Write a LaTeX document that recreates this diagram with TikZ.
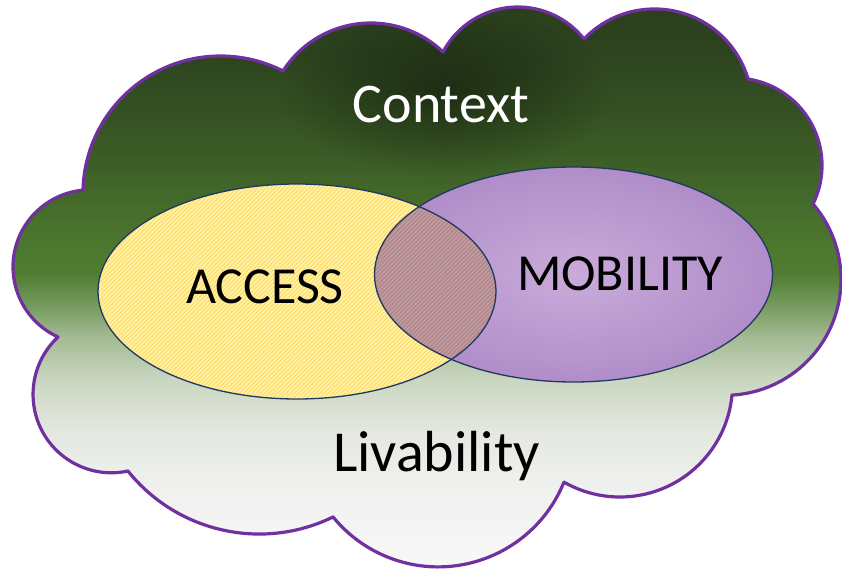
\documentclass[tikz,border=0pt]{standalone}
\usepackage{fontspec}
\setmainfont{Carlito}
\usetikzlibrary{patterns.meta,fadings,shadings}
\definecolor{c7}{HTML}{2B3E1D}
\definecolor{c60}{HTML}{2D4420}
\definecolor{c150}{HTML}{3A5A25}
\definecolor{c230}{HTML}{4A742D}
\definecolor{c270}{HTML}{507D32}
\definecolor{c300}{HTML}{769A5F}
\definecolor{c330}{HTML}{A3BA92}
\definecolor{c370}{HTML}{C9D6C0}
\definecolor{c420}{HTML}{E4E8E0}
\definecolor{c480}{HTML}{F1F2F0}
\definecolor{c567}{HTML}{F9F9F9}
\definecolor{cloudline}{HTML}{7030A0}
\definecolor{navyline}{HTML}{1F3864}
\definecolor{yellowbase}{HTML}{FFF6AC}
\definecolor{yellowstripe}{HTML}{FFDD72}
\definecolor{mobin}{HTML}{C9ABDA}
\definecolor{mobout}{HTML}{B08DC8}
\definecolor{lensbase}{HTML}{BDA0A6}
\definecolor{lensstripe}{HTML}{B68486}
\pgfdeclareverticalshading{cloudsh}{100bp}{color(0bp)=(c567); color(25bp)=(c567); color(32.77bp)=(c480); color(38.13bp)=(c420); color(42.59bp)=(c370); color(46.16bp)=(c330); color(48.84bp)=(c300); color(51.52bp)=(c270); color(55.09bp)=(c230); color(62.23bp)=(c150); color(70.27bp)=(c60); color(75bp)=(c7); color(100bp)=(c7)}
\tikzfading[name=blobfade, inner color=transparent!0, outer color=transparent!100]
\tikzset{
  stripes/.style={pattern={Lines[angle=45,distance=3pt,line width=1.4pt]}},
  ellline/.style={draw=navyline, line width=1.3pt},
  label/.style={anchor=base, inner sep=0pt},
}
\begin{document}
\begin{tikzpicture}[x=1pt,y=-1pt]
\useasboundingbox (0,0) rectangle (842,569);
\def\cloud{(83,190) arc[start angle=181.5, end angle=297, radius=137.6]
 -- (283,71) arc[start angle=212.7, end angle=313.8, radius=104.4]
 -- (443,52) arc[start angle=207.9, end angle=321.5, radius=84.6]
 -- (584,39) arc[start angle=223.8, end angle=343.6, radius=97.6]
 -- (748,79) arc[start angle=278.8, end angle=386.2, radius=87.4]
 -- (813,204) arc[start angle=319.3, end angle=446.6, radius=115.8]
 -- (732,395) arc[start angle=5.4, end angle=119.8, radius=112.6]
 -- (564,482) arc[start angle=22, end angle=140.8, radius=135.7]
 -- (333,517) arc[start angle=64, end angle=141.3, radius=168.3]
 -- (128,471) arc[start angle=77.8, end angle=227, radius=78.4]
 -- (58,337) arc[start angle=114.6, end angle=264.7, radius=77.1]
 -- cycle}
\def\accessE{(297,291.5) ellipse [x radius=199, y radius=107.5]}
\def\mobE{(573.5,274.5) ellipse [x radius=199, y radius=107.5]}
% cloud fill
\shade[shading=cloudsh] \cloud;
\begin{scope}
  \clip \cloud;
  \fill[black, opacity=0.4, path fading=blobfade] (445,92) ellipse [x radius=165, y radius=85];
\end{scope}
% access ellipse
\fill[yellowbase] \accessE;
\fill[stripes, pattern color=yellowstripe] \accessE;
% mobility ellipse
\shade[inner color=mobin, outer color=mobout] \mobE;
% overlap
\begin{scope}
  \clip \accessE;
  \fill[lensbase] \mobE;
  \fill[stripes, pattern color=lensstripe] \mobE;
\end{scope}
\draw[ellline] \accessE;
\draw[ellline] \mobE;
\draw[cloudline, line width=3.2pt, line join=round] \cloud;
% labels
\node[label, text=white, font=\fontsize{56}{60}\selectfont] (ctx) at (441,123) {Context};
\node[label, font=\fontsize{52}{60}\selectfont] (acc) at (265,303) {ACCESS};
\node[label, font=\fontsize{52}{60}\selectfont] (mob) at (620,290) {MOBILITY};
\node[label, font=\fontsize{58}{62}\selectfont] (liv) at (436.5,471) {Livability};
\end{tikzpicture}
\end{document}
